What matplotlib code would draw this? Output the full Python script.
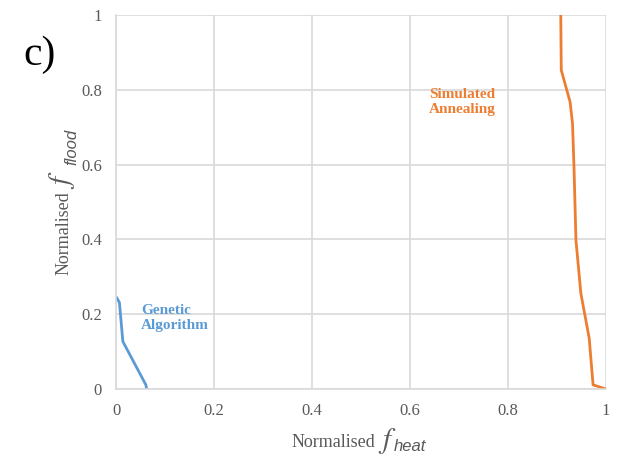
import matplotlib
matplotlib.use("Agg")
import matplotlib.pyplot as plt

# Pareto fronts (normalised objectives)
ga_heat = [0.002, 0.007, 0.014, 0.061, 0.0625]
ga_flood = [0.243, 0.231, 0.127, 0.011, 0.0]

sa_heat = [0.908, 0.909, 0.927, 0.932, 0.935, 0.939, 0.949, 0.966, 0.974, 1.0]
sa_flood = [1.0, 0.853, 0.768, 0.710, 0.594, 0.398, 0.256, 0.136, 0.011, 0.0]

xticks = [0, 0.2, 0.4, 0.6, 0.8, 1]
yticks = [0, 0.2, 0.4, 0.6, 0.8, 1]
ticklabels = ["0", "0.2", "0.4", "0.6", "0.8", "1"]

blue = "#5B9BD5"
orange = "#ED7D31"
grey = "#595959"

plt.rcParams["font.family"] = ["Liberation Serif", "DejaVu Serif"]
plt.rcParams["mathtext.fontset"] = "stix"

W, H = 622, 458
fig = plt.figure(figsize=(6.22, 4.58), dpi=100)
ax = fig.add_axes([0.1865, 0.1507, 0.7875, 0.8163])

ax.plot(ga_heat, ga_flood, color=blue, lw=2)
ax.plot(sa_heat, sa_flood, color=orange, lw=2)

ax.set_xlim(0, 1)
ax.set_ylim(0, 1)
ax.set_xticks(xticks)
ax.set_yticks(yticks)
ax.set_xticklabels(ticklabels)
ax.set_yticklabels(ticklabels)
ax.tick_params(length=0, labelsize=12, labelcolor=grey, pad=10)
ax.grid(True, color="#D9D9D9", lw=1.2)
ax.set_axisbelow(True)
for s in ["top", "right"]:
    ax.spines[s].set_visible(False)
for s in ["left", "bottom"]:
    ax.spines[s].set_color("#D9D9D9")
    ax.spines[s].set_linewidth(1.2)

# axis titles built from pieces: "Normalised" + big italic f + sans subscript
def px(x, y):
    return x / W, 1 - y / H

kw = dict(rotation_mode="anchor", ha="left", va="baseline", color=grey)
fig.text(*px(292, 447), "Normalised", fontsize=13, **kw)
fig.text(*px(378, 448), "$f$", fontsize=21, **kw)
fig.text(*px(394, 451), "heat", fontsize=12, style="italic",
         family="Liberation Sans", **kw)

fig.text(*px(69, 275), "Normalised", fontsize=13, rotation=90, **kw)
fig.text(*px(69, 189), "$f$", fontsize=21, rotation=90, **kw)
fig.text(*px(76, 165), "flood", fontsize=12, style="italic",
         family="Liberation Sans", rotation=90, **kw)

ax.text(0.051, 0.19, "Genetic\nAlgorithm", color=blue, fontsize=11,
        fontweight="bold", ha="left", va="center", linespacing=1.15)
ax.text(0.776, 0.768, "Simulated\nAnnealing", color=orange, fontsize=11,
        fontweight="bold", ha="right", va="center", linespacing=1.15,
        multialignment="center")

fig.text(*px(23, 65), "c)", fontsize=30, color="black", ha="left", va="baseline")

fig.savefig("out.png", dpi=100)
